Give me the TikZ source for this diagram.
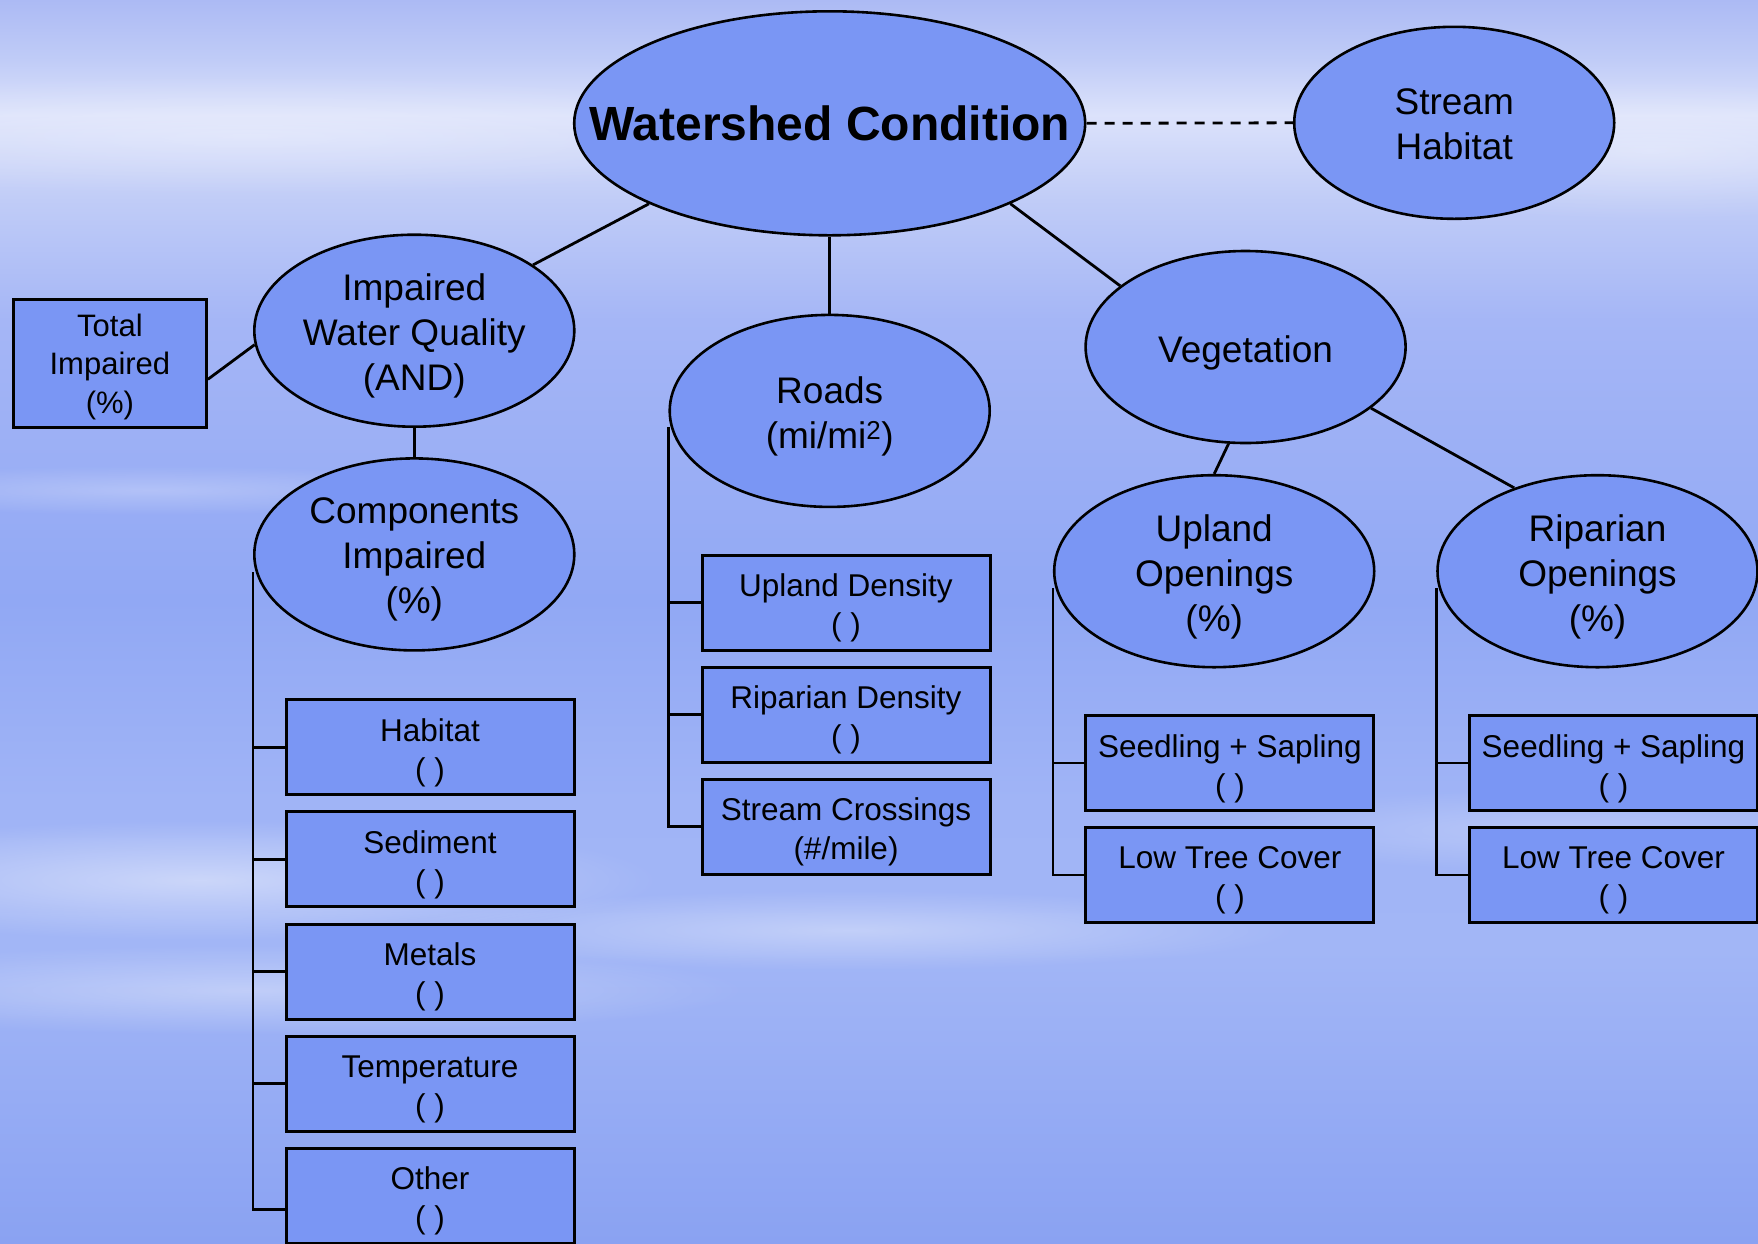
\documentclass[tikz,border=0pt]{standalone}
\usepackage{fontspec}
\setmainfont{Liberation Sans}
\usetikzlibrary{shapes.geometric,calc,fadings}

\definecolor{bgA}{RGB}{172,186,244}
\definecolor{bgB}{RGB}{192,204,247}
\definecolor{bgC}{RGB}{220,226,251}
\definecolor{bgD}{RGB}{192,204,247}
\definecolor{bgE}{RGB}{165,182,246}
\definecolor{bgF}{RGB}{145,168,244}
\definecolor{bgG}{RGB}{160,180,246}
\definecolor{bgH}{RGB}{162,182,246}
\definecolor{bgI}{RGB}{138,162,242}
\definecolor{nodefill}{RGB}{122,150,244}

\pgfdeclareverticalshading{skybg}{100bp}{color(0bp)=(bgI); color(25bp)=(bgI); color(36.79bp)=(bgH); color(42.82bp)=(bgG); color(50.86bp)=(bgF); color(62.13bp)=(bgE); color(66.95bp)=(bgD); color(70.37bp)=(bgC); color(72.59bp)=(bgB); color(75bp)=(bgA); color(100bp)=(bgA)}

\tikzfading[name=softblob, inner color=transparent!0, outer color=transparent!100]

\tikzset{
 ell/.style={ellipse, draw=black, line width=2.6pt, fill=nodefill, minimum width=320pt, minimum height=192pt, inner sep=0pt},
 elltext/.style={align=center, font=\fontsize{37}{45}\selectfont, yshift=-5.5pt},
 boxnode/.style={rectangle, draw=black, line width=3pt, fill=nodefill, minimum width=288pt, minimum height=95pt, inner sep=0pt},
 boxtext/.style={align=center, font=\fontsize{31.5}{39}\selectfont, yshift=-5.5pt},
 conn/.style={draw=black, line width=2.8pt},
 blob/.style={white, path fading=softblob},
}

\begin{document}
\begin{tikzpicture}[x=1pt,y=-1pt]
\useasboundingbox (0,0) rectangle (1758,1243);
\clip (0,0) rectangle (1758,1243);
\fill[shading=skybg] (0,0) rectangle (1758,1243);
% light streaks of the sky
\fill[blob, opacity=.3] (250,135) ellipse (600 and 60);
\fill[blob, opacity=.35] (1650,150) ellipse (360 and 70);
\fill[blob, opacity=.45] (200,880) ellipse (460 and 60);
\fill[blob, opacity=.35] (250,990) ellipse (500 and 45);
\fill[blob, opacity=.35] (850,930) ellipse (450 and 40);
\fill[blob, opacity=.25] (1550,830) ellipse (350 and 40);
\fill[blob, opacity=.25] (150,490) ellipse (350 and 25);

% ellipses
\node[ell, minimum width=511pt, minimum height=224pt] (wc) at (829.7,123.3) {};
\node[font=\bfseries\fontsize{48}{56}\selectfont] (wct) at (wc.center) {Watershed Condition};
\node[ell] (sh) at (1454.2,122.8) {};
\node[elltext, yshift=4.5pt] (sht) at (sh.center) {Stream\\Habitat};
\node[ell] (iwq) at (414.3,330.7) {};
\node[elltext] (iwqt) at (iwq.center) {Impaired\\Water Quality\\(AND)};
\node[ell] (roads) at (829.7,410.9) {};
\node[elltext] (roadst) at (roads.center) {Roads\\(mi/mi\textsuperscript{2})};
\node[ell] (veg) at (1245.6,347) {};
\node[elltext] (vegt) at (veg.center) {Vegetation};
\node[ell] (ci) at (414.3,554.4) {};
\node[elltext] (cit) at (ci.center) {Components\\Impaired\\(\%)};
\node[ell] (uo) at (1214.2,571.2) {};
\node[elltext] (uot) at (uo.center) {Upland\\Openings\\(\%)};
\node[ell] (ro) at (1597.5,571.2) {};
\node[elltext] (rot) at (ro.center) {Riparian\\Openings\\(\%)};

% boxes
\node[boxnode, minimum width=193pt, minimum height=128pt] (ti) at (109.9,363.3) {};
\node[boxtext, font=\fontsize{31}{38.7}\selectfont, yshift=2pt] (ti-t) at (ti.center) {Total\\Impaired\\(\%)};
\node[boxnode] (hab) at (430,747.2) {};
\node[boxnode] (sed) at (430,859.3) {};
\node[boxnode] (met) at (430,971.5) {};
\node[boxnode] (tmp) at (430,1083.6) {};
\node[boxnode] (oth) at (430,1195.7) {};
\node[boxnode] (ud) at (846,602.6) {};
\node[boxnode] (rd) at (846,714.7) {};
\node[boxnode] (sc) at (846,826.8) {};
\node[boxnode] (uss) at (1229.9,763) {};
\node[boxnode] (ultc) at (1229.9,875) {};
\node[boxnode] (rss) at (1613.5,763) {};
\node[boxnode] (rltc) at (1613.5,875) {};
\node[boxtext] (hab-t) at (hab.center) {Habitat\\( )};
\node[boxtext] (sed-t) at (sed.center) {Sediment\\( )};
\node[boxtext] (met-t) at (met.center) {Metals\\( )};
\node[boxtext] (tmp-t) at (tmp.center) {Temperature\\( )};
\node[boxtext] (oth-t) at (oth.center) {Other\\( )};
\node[boxtext] (ud-t) at (ud.center) {Upland Density\\( )};
\node[boxtext] (rd-t) at (rd.center) {Riparian Density\\( )};
\node[boxtext] (sc-t) at (sc.center) {Stream Crossings\\(\#/mile)};
\node[boxtext] (uss-t) at (uss.center) {Seedling + Sapling\\( )};
\node[boxtext] (ultc-t) at (ultc.center) {Low Tree Cover\\( )};
\node[boxtext] (rss-t) at (rss.center) {Seedling + Sapling\\( )};
\node[boxtext] (rltc-t) at (rltc.center) {Low Tree Cover\\( )};

% connectors
\draw[conn] (wc.204.5) -- (iwq.29.7);
\draw[conn] (wc.south) -- (roads.north);
\draw[conn] (wc.-24.5) -- (veg.154.8);
\draw[conn, dash pattern=on 10pt off 8pt] (wc.east) -- (sh.west);
\draw[conn] ($(ti.east)+(0,16)$) -- (iwq.185.6);
\draw[conn] (iwq.south) -- (ci.north);
\draw[conn] (veg.-100) -- (uo.north);
\draw[conn] (veg.-26.5) -- (ro.135.4);

% brackets
\coordinate (ciL) at ($(ci.west)+(0,18)$);
\draw[conn] (ciL) |- ($(oth.west)+(0,14)$);
\foreach \b in {hab,sed,met,tmp} \draw[conn] (ciL |- \b.west) -- (\b.west);

\coordinate (rdL) at ($(roads.west)+(0,16)$);
\draw[conn] (rdL) |- (sc.west);
\foreach \b in {ud,rd} \draw[conn] (rdL |- \b.west) -- (\b.west);

\coordinate (uoL) at ($(uo.west)+(0,17)$);
\draw[conn] (uoL) |- (ultc.west);
\draw[conn] (uoL |- uss.west) -- (uss.west);

\coordinate (roL) at ($(ro.west)+(0,17)$);
\draw[conn] (roL) |- (rltc.west);
\draw[conn] (roL |- rss.west) -- (rss.west);
\end{tikzpicture}
\end{document}
